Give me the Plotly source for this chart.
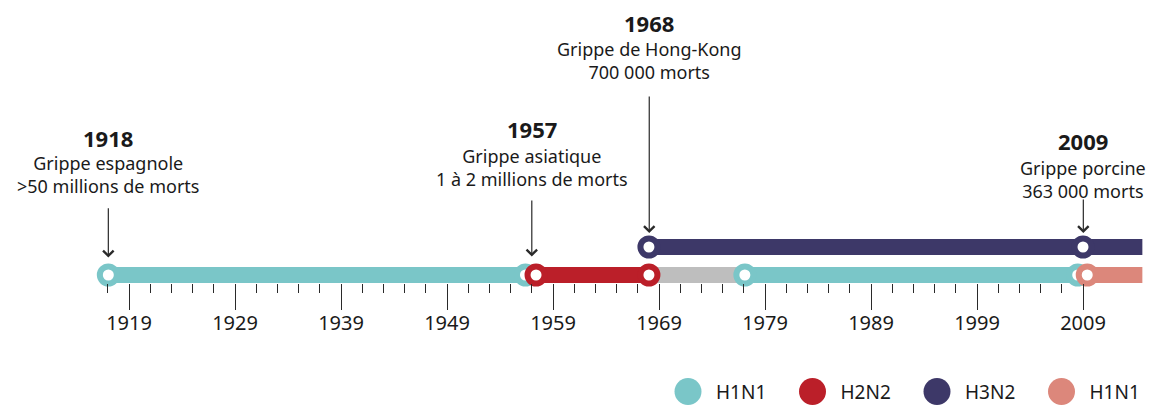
import plotly.graph_objects as go

# ---------------- data ----------------
# timeline segments (virus strains circulating)
seg_names = ["H1N1", "H2N2", "transition", "H1N1", "H1N1 (2009)", "H3N2"]
seg_start = [1917.05, 1957.4, 1968.05, 1977.1, 2009.4, 1968.05]
seg_end = [1956.4, 1968.05, 1977.1, 2008.5, 2014.6, 2014.6]
seg_lane = [0, 0, 0, 0, 0, 1]
seg_circles = [[1917.05, 1956.4], [1957.4, 1968.05], [], [1977.1, 2008.5], [2009.4], [1968.05, 2009.0]]
seg_colors = ["#7AC6C8", "#BB1F29", "#BEBEBE", "#7AC6C8", "#DC877B", "#3D3868"]

# pandemic events
event_years = ["1918", "1957", "1968", "2009"]
event_names = ["Grippe espagnole", "Grippe asiatique", "Grippe de Hong-Kong", "Grippe porcine"]
event_deaths = [">50 millions de morts", "1 à 2 millions de morts", "700 000 morts", "363 000 morts"]
event_x = [1917.05, 1957.0, 1968.08, 2009.03]
event_lane = [0, 0, 1, 1]

# axis ticks
major_ticks = [1919, 1929, 1939, 1949, 1959, 1969, 1979, 1989, 1999, 2009]
minor_ticks = list(range(1917, 2009, 2))

# legend
legend_labels = ["H1N1", "H2N2", "H3N2", "H1N1"]
legend_colors = ["#7AC6C8", "#BB1F29", "#3D3868", "#DC877B"]

# ---------------- layout constants ----------------
W, H = 1159, 405
FONT = "Noto Sans"
TXT = "#1a1a1a"
AXIS_BOTTOM_PX = 283          # pixel row of the timeline axis
LANE_PX = 28                  # vertical spacing between lanes
LANE0_OFFSET = 8              # lane 0 centre above axis
# per-event layout (pixel rows): title centre, body centre, arrow tail
title_px = [138.5, 128.5, 23.5, 141]
body_px = [175, 167, 60.5, 179]
tail_px = [206.7, 199, 95, 198]
tip_standoff = [17.5, 18.5, 14, 14]

fig = go.Figure()

y_bottom = -LANE0_OFFSET / LANE_PX
y_top = (AXIS_BOTTOM_PX - LANE0_OFFSET) / LANE_PX

# bars first
for i in range(len(seg_names)):
    fig.add_trace(go.Scatter(
        x=[seg_start[i], seg_end[i]], y=[seg_lane[i]] * 2,
        mode="lines", line=dict(color=seg_colors[i], width=16),
        hoverinfo="skip", showlegend=False, xaxis="x", yaxis="y"))
# then the ring markers on top
for i in range(len(seg_names)):
    if seg_circles[i]:
        fig.add_trace(go.Scatter(
            x=seg_circles[i], y=[seg_lane[i]] * len(seg_circles[i]),
            mode="markers",
            marker=dict(size=17, color="white", line=dict(color=seg_colors[i], width=6)),
            hoverinfo="skip", showlegend=False, xaxis="x", yaxis="y", cliponaxis=False))

# legend drawn as markers + text in its own band
leg_x0, leg_dx = 688, 124.5
leg_x = [leg_x0 + i * leg_dx for i in range(len(legend_labels))]
fig.add_trace(go.Scatter(
    x=leg_x, y=[13.5] * 4, mode="markers",
    marker=dict(size=27, color=legend_colors, line=dict(width=0)),
    hoverinfo="skip", showlegend=False, xaxis="x2", yaxis="y2", cliponaxis=False))
fig.add_trace(go.Scatter(
    x=[v + 28 for v in leg_x], y=[11] * 4, mode="text", text=legend_labels,
    textposition="middle right", textfont=dict(family=FONT, size=19, color=TXT),
    hoverinfo="skip", showlegend=False, xaxis="x2", yaxis="y2", cliponaxis=False))

annotations = []
for i in range(len(event_years)):
    lane_px = AXIS_BOTTOM_PX - LANE0_OFFSET - event_lane[i] * LANE_PX
    annotations.append(dict(
        x=event_x[i], y=event_lane[i], xref="x", yref="y",
        ax=0, ay=tail_px[i] - lane_px, axref="pixel", ayref="pixel",
        text="", showarrow=True, arrowhead=4, arrowsize=1.7, arrowwidth=1.2,
        arrowcolor="#2a2a2a", standoff=tip_standoff[i]))
    annotations.append(dict(
        x=event_x[i], y=1 - title_px[i] / H, xref="x", yref="paper",
        text="<b>" + event_years[i] + "</b>", showarrow=False,
        font=dict(family=FONT, size=22, color=TXT), xanchor="center", yanchor="middle"))
    annotations.append(dict(
        x=event_x[i], y=1 - body_px[i] / H, xref="x", yref="paper",
        text=event_names[i] + "<br>" + event_deaths[i], showarrow=False,
        font=dict(family=FONT, size=18, color=TXT), xanchor="center", yanchor="middle"))

px_per_year = 10.6
x_range = [1919 - 129 / px_per_year, 1919 + (W - 129) / px_per_year]

fig.update_layout(
    width=W, height=H,
    margin=dict(l=0, r=0, t=0, b=0),
    paper_bgcolor="white", plot_bgcolor="white",
    font=dict(family=FONT, color=TXT),
    annotations=annotations,
    xaxis=dict(
        range=x_range, domain=[0, 1], anchor="y",
        tickmode="array", tickvals=major_ticks, ticktext=[str(t) for t in major_ticks],
        ticks="outside", ticklen=26, tickwidth=1.4, tickcolor="#2a2a2a",
        tickfont=dict(family=FONT, size=20, color=TXT), ticklabelstandoff=-4,
        showline=False, showgrid=False, zeroline=False,
        minor=dict(tickmode="array", tickvals=minor_ticks, ticks="outside",
                   ticklen=9, tickwidth=1.2, tickcolor="#2a2a2a", showgrid=False),
        fixedrange=True),
    yaxis=dict(
        range=[y_bottom, y_top], domain=[(H - AXIS_BOTTOM_PX) / H, 1], anchor="x",
        visible=False, fixedrange=True),
    xaxis2=dict(range=[0, W], domain=[0, 1], anchor="y2", visible=False, fixedrange=True),
    yaxis2=dict(range=[0, H - AXIS_BOTTOM_PX], domain=[0, (H - AXIS_BOTTOM_PX) / H],
                anchor="x2", visible=False, fixedrange=True),
)

fig.write_html("out.html", config={"displayModeBar": False},
               post_script="document.body.style.margin='0';")
